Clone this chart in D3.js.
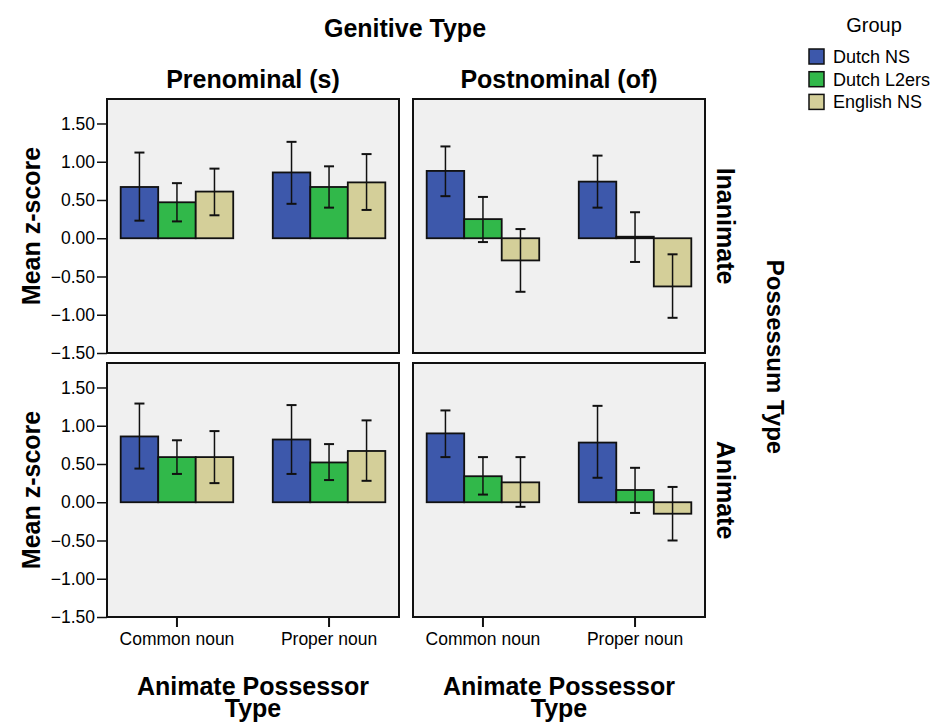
<!DOCTYPE html>
<html>
<head>
<meta charset="utf-8">
<script src="https://cdn.jsdelivr.net/npm/d3@7"></script>
<style>
  body { margin: 0; background: #fff; }
  svg text { font-family: "Liberation Sans", Arial, sans-serif; fill: #000; }
</style>
</head>
<body>
<div id="chart"></div>
<script>
// categories
const groups = ["Dutch NS", "Dutch L2ers", "English NS"];
const possessorTypes = ["Common noun", "Proper noun"];
const genitiveTypes = ["Prenominal (s)", "Postnominal (of)"];
const possessumTypes = ["Inanimate", "Animate"];
const yTicks = [-1.5, -1.0, -0.5, 0, 0.5, 1.0, 1.5];

// means and error bar ends, per panel: Common noun (3 groups) then Proper noun (3 groups)
const meanInanPre  = [0.67, 0.47, 0.61, 0.86, 0.67, 0.73];
const lowInanPre   = [0.23, 0.22, 0.30, 0.45, 0.40, 0.37];
const highInanPre  = [1.12, 0.72, 0.91, 1.26, 0.94, 1.10];

const meanInanPost = [0.88, 0.25, -0.29, 0.74, 0.02, -0.63];
const lowInanPost  = [0.55, -0.05, -0.70, 0.40, -0.31, -1.04];
const highInanPost = [1.20, 0.54, 0.12, 1.08, 0.34, -0.21];

const meanAnPre    = [0.86, 0.59, 0.59, 0.82, 0.52, 0.67];
const lowAnPre     = [0.44, 0.37, 0.25, 0.37, 0.29, 0.28];
const highAnPre    = [1.29, 0.81, 0.93, 1.27, 0.76, 1.07];

const meanAnPost   = [0.90, 0.34, 0.26, 0.78, 0.16, -0.15];
const lowAnPost    = [0.59, 0.10, -0.06, 0.32, -0.14, -0.50];
const highAnPost   = [1.20, 0.59, 0.59, 1.26, 0.45, 0.20];

const colors = ["#3d58ab", "#31b84a", "#d4cf99"];

function init() {
    const w = 936;
    const h = 722;

    const panelW = 292;
    const panelH = 254;
    const panelX = [107, 413];
    const panelY = [99, 363];
    const bigFont = "25px";

    const svg = d3.select("#chart")
        .append("svg")
        .attr("width", w)
        .attr("height", h);

    const y = d3.scaleLinear().domain([-1.5, 1.82]).range([panelH, 0]);
    const x0 = d3.scaleBand()
        .domain(possessorTypes)
        .range([0, panelW])
        .paddingInner(0.26)
        .paddingOuter(0.09);
    const x1 = d3.scaleBand().domain(groups).range([0, x0.bandwidth()]);

    const panels = [
        { row: 0, col: 0, mean: meanInanPre, low: lowInanPre, high: highInanPre },
        { row: 0, col: 1, mean: meanInanPost, low: lowInanPost, high: highInanPost },
        { row: 1, col: 0, mean: meanAnPre, low: lowAnPre, high: highAnPre },
        { row: 1, col: 1, mean: meanAnPost, low: lowAnPost, high: highAnPost }
    ];

    panels.forEach(function(p) {
        const g = svg.append("g")
            .attr("transform", "translate(" + panelX[p.col] + "," + panelY[p.row] + ")");

        g.append("rect")
            .attr("width", panelW)
            .attr("height", panelH)
            .attr("fill", "#f0f0f0");

        const rows = p.mean.map(function(m, i) {
            return {
                cat: possessorTypes[Math.floor(i / 3)],
                group: groups[i % 3],
                color: colors[i % 3],
                mean: m,
                low: p.low[i],
                high: p.high[i]
            };
        });

        // bars
        g.selectAll("rect.bar")
            .data(rows)
            .enter()
            .append("rect")
            .attr("class", "bar")
            .attr("x", function(d) { return x0(d.cat) + x1(d.group); })
            .attr("y", function(d) { return y(Math.max(0, d.mean)); })
            .attr("width", x1.bandwidth())
            .attr("height", function(d) { return Math.abs(y(d.mean) - y(0)); })
            .attr("fill", function(d) { return d.color; })
            .attr("stroke", "#111")
            .attr("stroke-width", 1.8);

        // error bars
        const eb = g.selectAll("g.err")
            .data(rows)
            .enter()
            .append("g")
            .attr("class", "err")
            .attr("transform", function(d) {
                return "translate(" + (x0(d.cat) + x1(d.group) + x1.bandwidth() / 2) + ",0)";
            });
        eb.append("line")
            .attr("y1", function(d) { return y(d.low); })
            .attr("y2", function(d) { return y(d.high); })
            .attr("stroke", "#111")
            .attr("stroke-width", 1.5);
        eb.append("line")
            .attr("x1", -5).attr("x2", 5)
            .attr("y1", function(d) { return y(d.high); })
            .attr("y2", function(d) { return y(d.high); })
            .attr("stroke", "#111")
            .attr("stroke-width", 2);
        eb.append("line")
            .attr("x1", -5).attr("x2", 5)
            .attr("y1", function(d) { return y(d.low); })
            .attr("y2", function(d) { return y(d.low); })
            .attr("stroke", "#111")
            .attr("stroke-width", 2);

        // frame
        g.append("rect")
            .attr("width", panelW)
            .attr("height", panelH)
            .attr("fill", "none")
            .attr("stroke", "#111")
            .attr("stroke-width", 2);

        // y axis on left column
        if (p.col === 0) {
            const ay = g.append("g")
                .call(d3.axisLeft(y).tickValues(yTicks).tickFormat(d3.format(".2f")).tickSize(10).tickPadding(2));
            ay.select(".domain").remove();
            ay.selectAll(".tick line").attr("stroke", "#111").attr("stroke-width", 1.5);
            ay.selectAll("text").attr("font-size", "17.5px").attr("fill", "#000");
        }

        // x axis on bottom row
        if (p.row === 1) {
            const ax = g.append("g")
                .attr("transform", "translate(0," + panelH + ")")
                .call(d3.axisBottom(x0).tickSize(10).tickPadding(6));
            ax.select(".domain").remove();
            ax.selectAll(".tick line").attr("stroke", "#111").attr("stroke-width", 2);
            ax.selectAll("text").attr("font-size", "17.5px").attr("fill", "#000");
        }
    });

    // titles
    svg.append("text")
        .attr("x", 405).attr("y", 37)
        .attr("text-anchor", "middle")
        .attr("font-size", bigFont).attr("font-weight", "bold")
        .text("Genitive Type");

    genitiveTypes.forEach(function(t, i) {
        svg.append("text")
            .attr("x", panelX[i] + panelW / 2).attr("y", 88)
            .attr("text-anchor", "middle")
            .attr("font-size", bigFont).attr("font-weight", "bold")
            .text(t);

        const lbl = svg.append("text")
            .attr("text-anchor", "middle")
            .attr("font-size", bigFont).attr("font-weight", "bold");
        lbl.append("tspan")
            .attr("x", panelX[i] + panelW / 2).attr("y", 695)
            .text("Animate Possessor");
        lbl.append("tspan")
            .attr("x", panelX[i] + panelW / 2).attr("y", 717)
            .text("Type");
    });

    possessumTypes.forEach(function(t, i) {
        const cy = panelY[i] + panelH / 2;
        svg.append("text")
            .attr("transform", "translate(40," + cy + ") rotate(-90)")
            .attr("text-anchor", "middle")
            .attr("font-size", bigFont).attr("font-weight", "bold")
            .text("Mean z-score");
        svg.append("text")
            .attr("transform", "translate(717," + cy + ") rotate(90)")
            .attr("text-anchor", "middle")
            .attr("font-size", bigFont).attr("font-weight", "bold")
            .text(t);
    });

    svg.append("text")
        .attr("transform", "translate(767,357) rotate(90)")
        .attr("text-anchor", "middle")
        .attr("font-size", "24px").attr("font-weight", "bold")
        .text("Possessum Type");

    // legend
    svg.append("text")
        .attr("x", 874).attr("y", 32)
        .attr("text-anchor", "middle")
        .attr("font-size", "20px")
        .text("Group");

    const leg = svg.selectAll("g.leg")
        .data(groups)
        .enter()
        .append("g")
        .attr("class", "leg")
        .attr("transform", function(d, i) { return "translate(809," + (49 + i * 22.7) + ")"; });
    leg.append("rect")
        .attr("width", 15).attr("height", 15)
        .attr("fill", function(d, i) { return colors[i]; })
        .attr("stroke", "#111")
        .attr("stroke-width", 1.5);
    leg.append("text")
        .attr("x", 24).attr("y", 14)
        .attr("font-size", "18px")
        .text(function(d) { return d; });
}

window.onload = init;
</script>
</body>
</html>
